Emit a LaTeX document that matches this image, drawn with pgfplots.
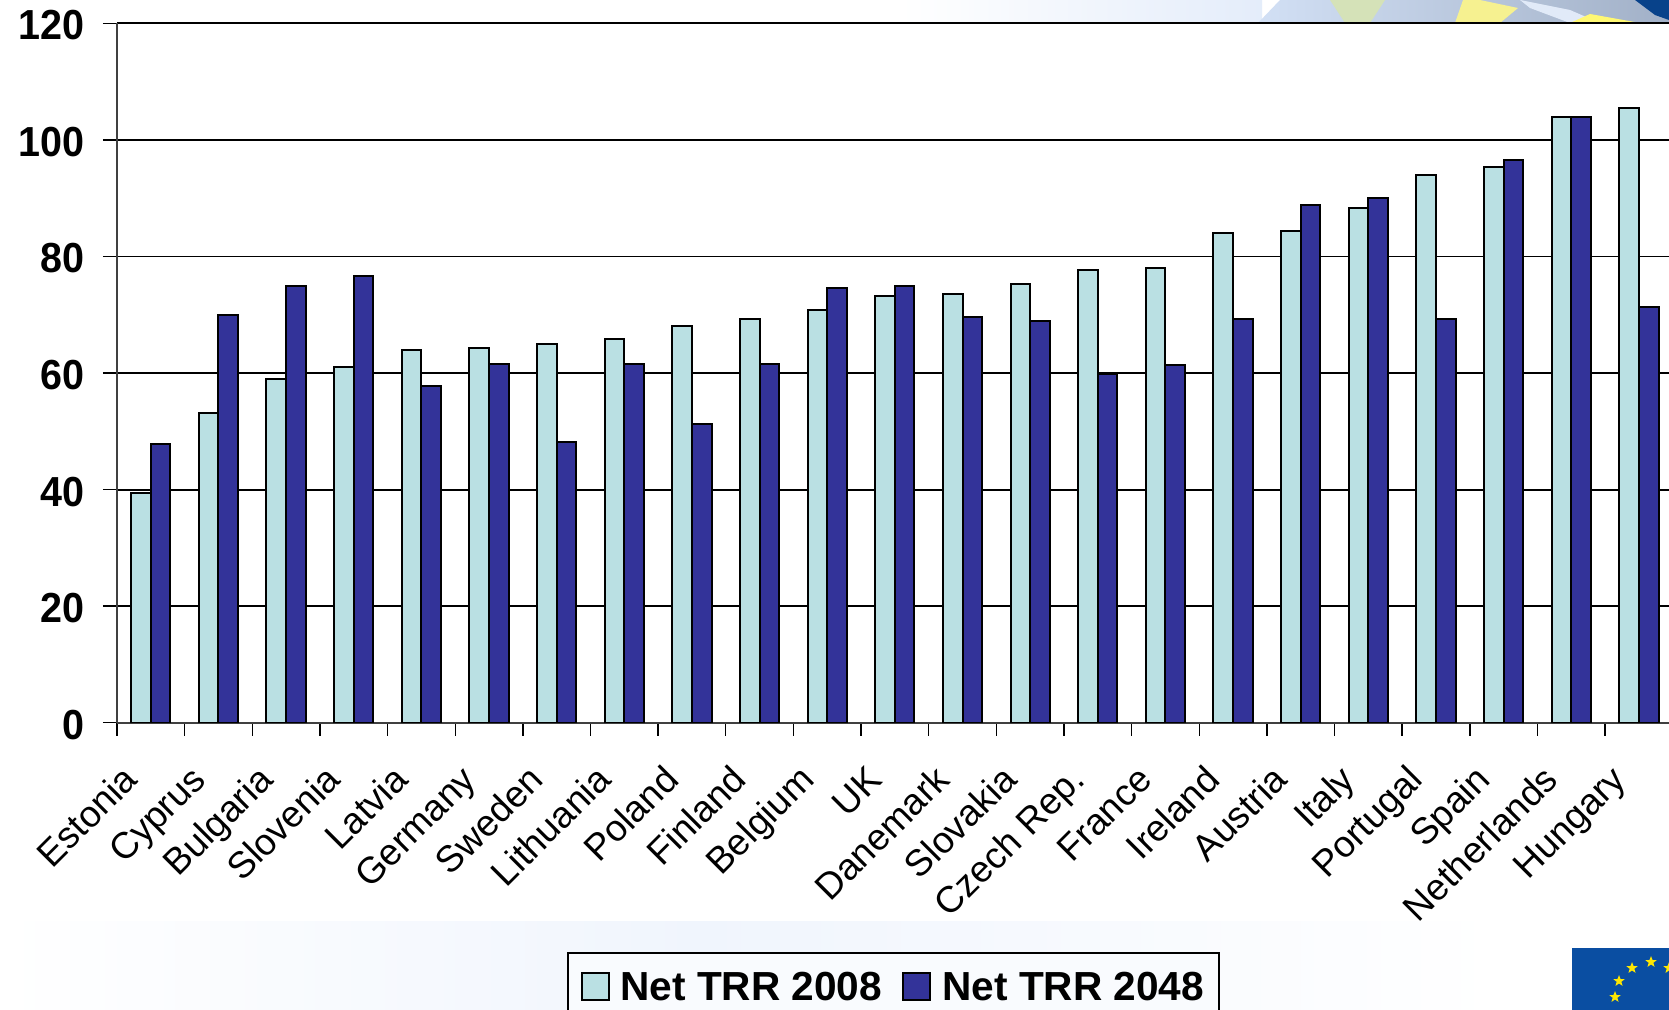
\documentclass[border=0pt]{standalone}
\usepackage{fontspec}
\setmainfont{Liberation Sans}
\usepackage{pgfplots}
\pgfplotsset{compat=1.18}
\usetikzlibrary{shapes.geometric}
\definecolor{lightbar}{HTML}{BAE0E3}
\definecolor{darkbar}{HTML}{333399}
\definecolor{paleblue}{HTML}{F0F5FD}
\definecolor{swoosh}{HTML}{B4CBEE}
\definecolor{flagblue}{HTML}{0A4EA2}
\begin{document}
\begin{tikzpicture}[x=0.5pt,y=-0.5pt]
% page frame in pixel-like units, origin top left
\useasboundingbox (0,0) rectangle (1669,1010);
\fill[white] (0,0) rectangle (1669,1010);
% slide backdrop: upper strip
\shade[left color=white,right color=paleblue!80!swoosh] (900,0) rectangle (1262,23);
\shade[left color=swoosh!60!white,right color=swoosh!65!gray] (1258,23) -- (1280,0) -- (1669,0) -- (1669,23) -- cycle;
\fill[swoosh!70!yellow!80!white] (1330,0) -- (1385,0) -- (1370,23) -- (1345,23) -- cycle;
\fill[yellow!45!white!92!gray] (1455,23) -- (1463,0) -- (1480,0) -- (1518,8) -- (1500,23) -- cycle;
\fill[white!60!swoosh] (1520,0) -- (1570,10) -- (1600,23) -- (1570,23) -- (1530,8) -- cycle;
\fill[yellow!55!white] (1570,23) -- (1590,14) -- (1640,23) -- cycle;
\fill[flagblue!85!black] (1635,0) -- (1669,0) -- (1669,20) -- (1655,15) -- cycle;
% slide backdrop: lower strip
\shade[left color=white,right color=paleblue] (0,921) rectangle (700,1010);
\shade[left color=paleblue,right color=white] (700,921) rectangle (1500,1010);
% flag in the corner
\fill[flagblue] (1572,948) rectangle (1669,1010);
\foreach \sx/\sy in {1632/968,1651/962,1669/968,1619/981,1615/997}
  \node[star,star points=5,star point ratio=2.4,fill=yellow!90!orange,inner sep=0pt,minimum size=6pt] at (\sx,\sy) {};
\coordinate (plotcorner) at (117,722.7);
\begin{axis}[
  at={(plotcorner)},anchor=south west,
  scale only axis,
  width=776pt,height=349.65pt,
  xmin=-0.5,xmax=22.445,ymin=0,ymax=120,
  axis lines=left,
  axis line style={-,black!75,line width=0.9pt},
  clip=true,
  ybar,bar width=0.29,
  xtick={0,...,22},
  major x tick style={draw=none},
  minor xtick={-0.5,0.5,...,21.5},
  xticklabels={Estonia,Cyprus,Bulgaria,Slovenia,Latvia,Germany,Sweden,Lithuania,Poland,Finland,Belgium,UK,Danemark,Slovakia,Czech Rep.,France,Ireland,Austria,Italy,Portugal,Spain,Netherlands,Hungary},
  x tick label style={rotate=45,anchor=north east,font=\fontsize{18.5}{21}\selectfont,inner sep=0pt,text height=0.72em,text depth=0.21em,yshift=-4.6pt,xshift=-19.8pt},
  ytick={0,20,...,120},
  y tick label style={font=\fontsize{21}{24}\bfseries\selectfont,inner sep=0pt,xscale=0.94,xshift=-9.5pt,yshift=-1pt},
  /pgf/number format/assume math mode=true,
  tick align=outside,
  major tick length=7pt,
  minor tick length=6.5pt,
  tick style={black,line width=0.7pt},
  ymajorgrids,
  grid style={black,line width=0.9pt},
]
\addplot[ybar,bar shift=-0.145,fill=lightbar,draw=black,line width=1pt] coordinates {
 (0,39.5)(1,53.2)(2,59)(3,61)(4,64)(5,64.3)(6,64.9)(7,65.8)(8,68)(9,69.3)(10,70.9)(11,73.3)(12,73.6)(13,75.3)(14,77.6)(15,78)(16,84)(17,84.3)(18,88.4)(19,94)(20,95.3)(21,104)(22,105.4)};
\addplot[ybar,bar shift=0.145,fill=darkbar,draw=black,line width=1pt] coordinates {
 (0,47.8)(1,70)(2,75)(3,76.7)(4,57.7)(5,61.5)(6,48.2)(7,61.5)(8,51.3)(9,61.5)(10,74.6)(11,75)(12,69.6)(13,68.9)(14,59.9)(15,61.3)(16,69.3)(17,88.8)(18,90)(19,69.3)(20,96.6)(21,104)(22,71.3)};
\end{axis}
% legend box along the lower edge
\fill[paleblue!40!white,draw=black,line width=0.8pt] (568,953) rectangle (1219,1020);
\fill[lightbar,draw=black,line width=0.8pt] (582,973) rectangle (609,1000);
\node[anchor=west,inner sep=0pt,font=\fontsize{20.3}{22}\bfseries\selectfont] at (620,986.5) {Net TRR 2008};
\fill[darkbar,draw=black,line width=0.8pt] (903,973) rectangle (930,1000);
\node[anchor=west,inner sep=0pt,font=\fontsize{20.3}{22}\bfseries\selectfont] at (942,986.5) {Net TRR 2048};
\end{tikzpicture}
\end{document}
